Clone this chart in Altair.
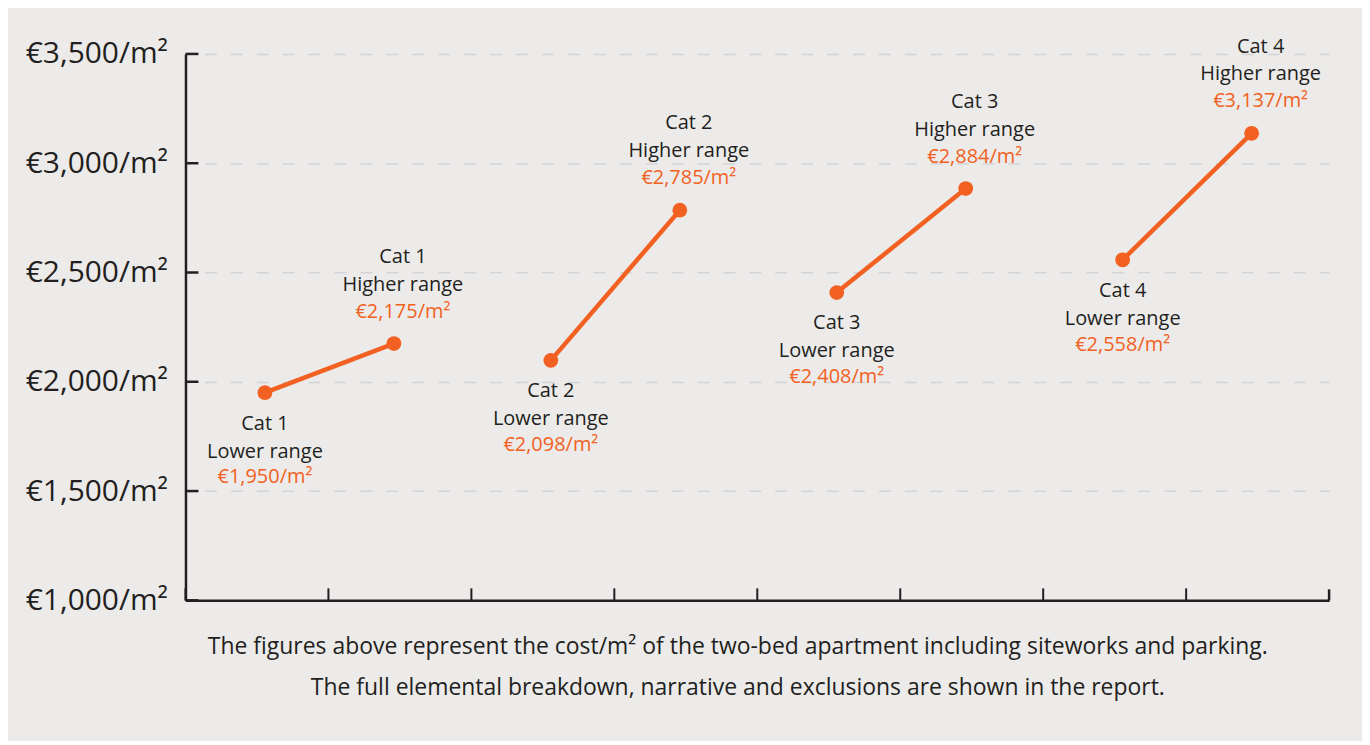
import altair as alt
import pandas as pd

# ---- data ----
CATEGORIES = ["Cat 1", "Cat 2", "Cat 3", "Cat 4"]
LEVELS = ["Lower range", "Higher range"]
LOWER = [1950, 2098, 2408, 2558]
HIGHER = [2175, 2785, 2884, 3137]
Y_TICKS = [1000, 1500, 2000, 2500, 3000, 3500]
CAPTION = [
    "The figures above represent the cost/m² of the two-bed apartment including siteworks and parking.",
    "The full elemental breakdown, narrative and exclusions are shown in the report.",
]

# ---- style ----
FONT = "Open Sans"
DARK = "#231F20"
ORANGE = "#F26122"
BG = "#ECEBEA"
GRID = "#D4D4D7"
W, H = 1147, 548

rows = []
for c, lo, hi in zip(CATEGORIES, LOWER, HIGHER):
    for lvl, v in zip(LEVELS, (lo, hi)):
        rows.append({"cat": c, "level": lvl, "slot": f"{c} {lvl}", "value": v,
                     "label": f"€{v:,}/m²"})
long_df = pd.DataFrame(rows)
slots = list(long_df["slot"])
wide_df = pd.DataFrame({
    "cat": CATEGORIES,
    "lo_slot": [f"{c} {LEVELS[0]}" for c in CATEGORIES],
    "hi_slot": [f"{c} {LEVELS[1]}" for c in CATEGORIES],
    "lower": LOWER,
    "higher": HIGHER,
})
tick_df = pd.DataFrame({"value": Y_TICKS})
end_df = pd.DataFrame({"slot": [slots[-1]]})

x_scale = alt.Scale(domain=slots, paddingInner=0, paddingOuter=0)
y_scale = alt.Scale(domain=[1000, 3500], nice=False, zero=False)

x_axis = alt.Axis(labels=False, ticks=False, title=None, grid=False,
                  domainColor=DARK, domainWidth=2.5)
y_axis = alt.Axis(values=Y_TICKS, title=None, ticks=False,
                  labelExpr='"€" + format(datum.value, ",") + "/m²"',
                  labelFont=FONT, labelFontSize=30, labelColor=DARK,
                  labelPadding=18, domainColor=DARK, domainWidth=2.5,
                  grid=True, gridColor=GRID, gridWidth=1.5,
                  gridDash=[12, 14], gridDashOffset=7)


def X(field, **kw):
    return alt.X(field, type="nominal", scale=x_scale, axis=x_axis, **kw)


def Y(field):
    return alt.Y(field, type="quantitative", scale=y_scale, axis=y_axis)


layers = []

# inward y ticks
layers.append(
    alt.Chart(tick_df).mark_rule(color=DARK, strokeWidth=2.5).encode(
        y=Y("value"), x=alt.value(0), x2=alt.value(13))
)
# inward x ticks at slot boundaries
layers.append(
    alt.Chart(long_df).mark_rule(color=DARK, strokeWidth=2).encode(
        x=X("slot", bandPosition=0), y=alt.value(H - 12), y2=alt.value(H))
)
layers.append(
    alt.Chart(end_df).mark_rule(color=DARK, strokeWidth=2.5).encode(
        x=X("slot", bandPosition=1), y=alt.value(H - 11), y2=alt.value(H))
)

# connecting lines
layers.append(
    alt.Chart(wide_df).mark_rule(color=ORANGE, strokeWidth=4.5, strokeCap="round",
                                 xOffset=8, x2Offset=-6).encode(
        x=X("lo_slot", bandPosition=0.5), x2=alt.X2("hi_slot"),
        y=Y("lower"), y2=alt.Y2("higher"))
)

# points + labels
offsets = {"Lower range": 8, "Higher range": -6}
label_dx = {"Lower range": 8, "Higher range": 3}
label_dy = {"Lower range": [31, 59, 85], "Higher range": [-87, -59, -32]}
for lvl in LEVELS:
    base = alt.Chart(long_df).transform_filter(alt.datum.level == lvl)
    layers.append(
        base.mark_circle(size=220, opacity=1, color=ORANGE, xOffset=offsets[lvl]).encode(
            x=X("slot"), y=Y("value"))
    )
    for field, color, dy in zip(["cat", "level", "label"], [DARK, DARK, ORANGE], label_dy[lvl]):
        layers.append(
            base.mark_text(font=FONT, fontSize=20, color=color, dx=label_dx[lvl], dy=dy,
                           baseline="middle", align="center").encode(
                x=X("slot"), y=Y("value"), text=alt.Text(f"{field}:N"))
        )

# caption
for i, line in enumerate(CAPTION):
    layers.append(
        alt.Chart(pd.DataFrame({"t": [line]})).mark_text(
            font=FONT, fontSize=23, color=DARK, align="center", baseline="middle").encode(
            x=alt.value(554), y=alt.value(H + 47 + 41 * i), text="t:N")
    )

chart = alt.layer(*layers).properties(
    width=W, height=H,
    autosize=alt.AutoSizeParams(type="none"),
    padding={"left": 178, "top": 45, "right": 33, "bottom": 140},
    background=BG,
).configure_view(stroke=None)

chart.save("out.html", embed_options={"renderer": "svg", "actions": False})
